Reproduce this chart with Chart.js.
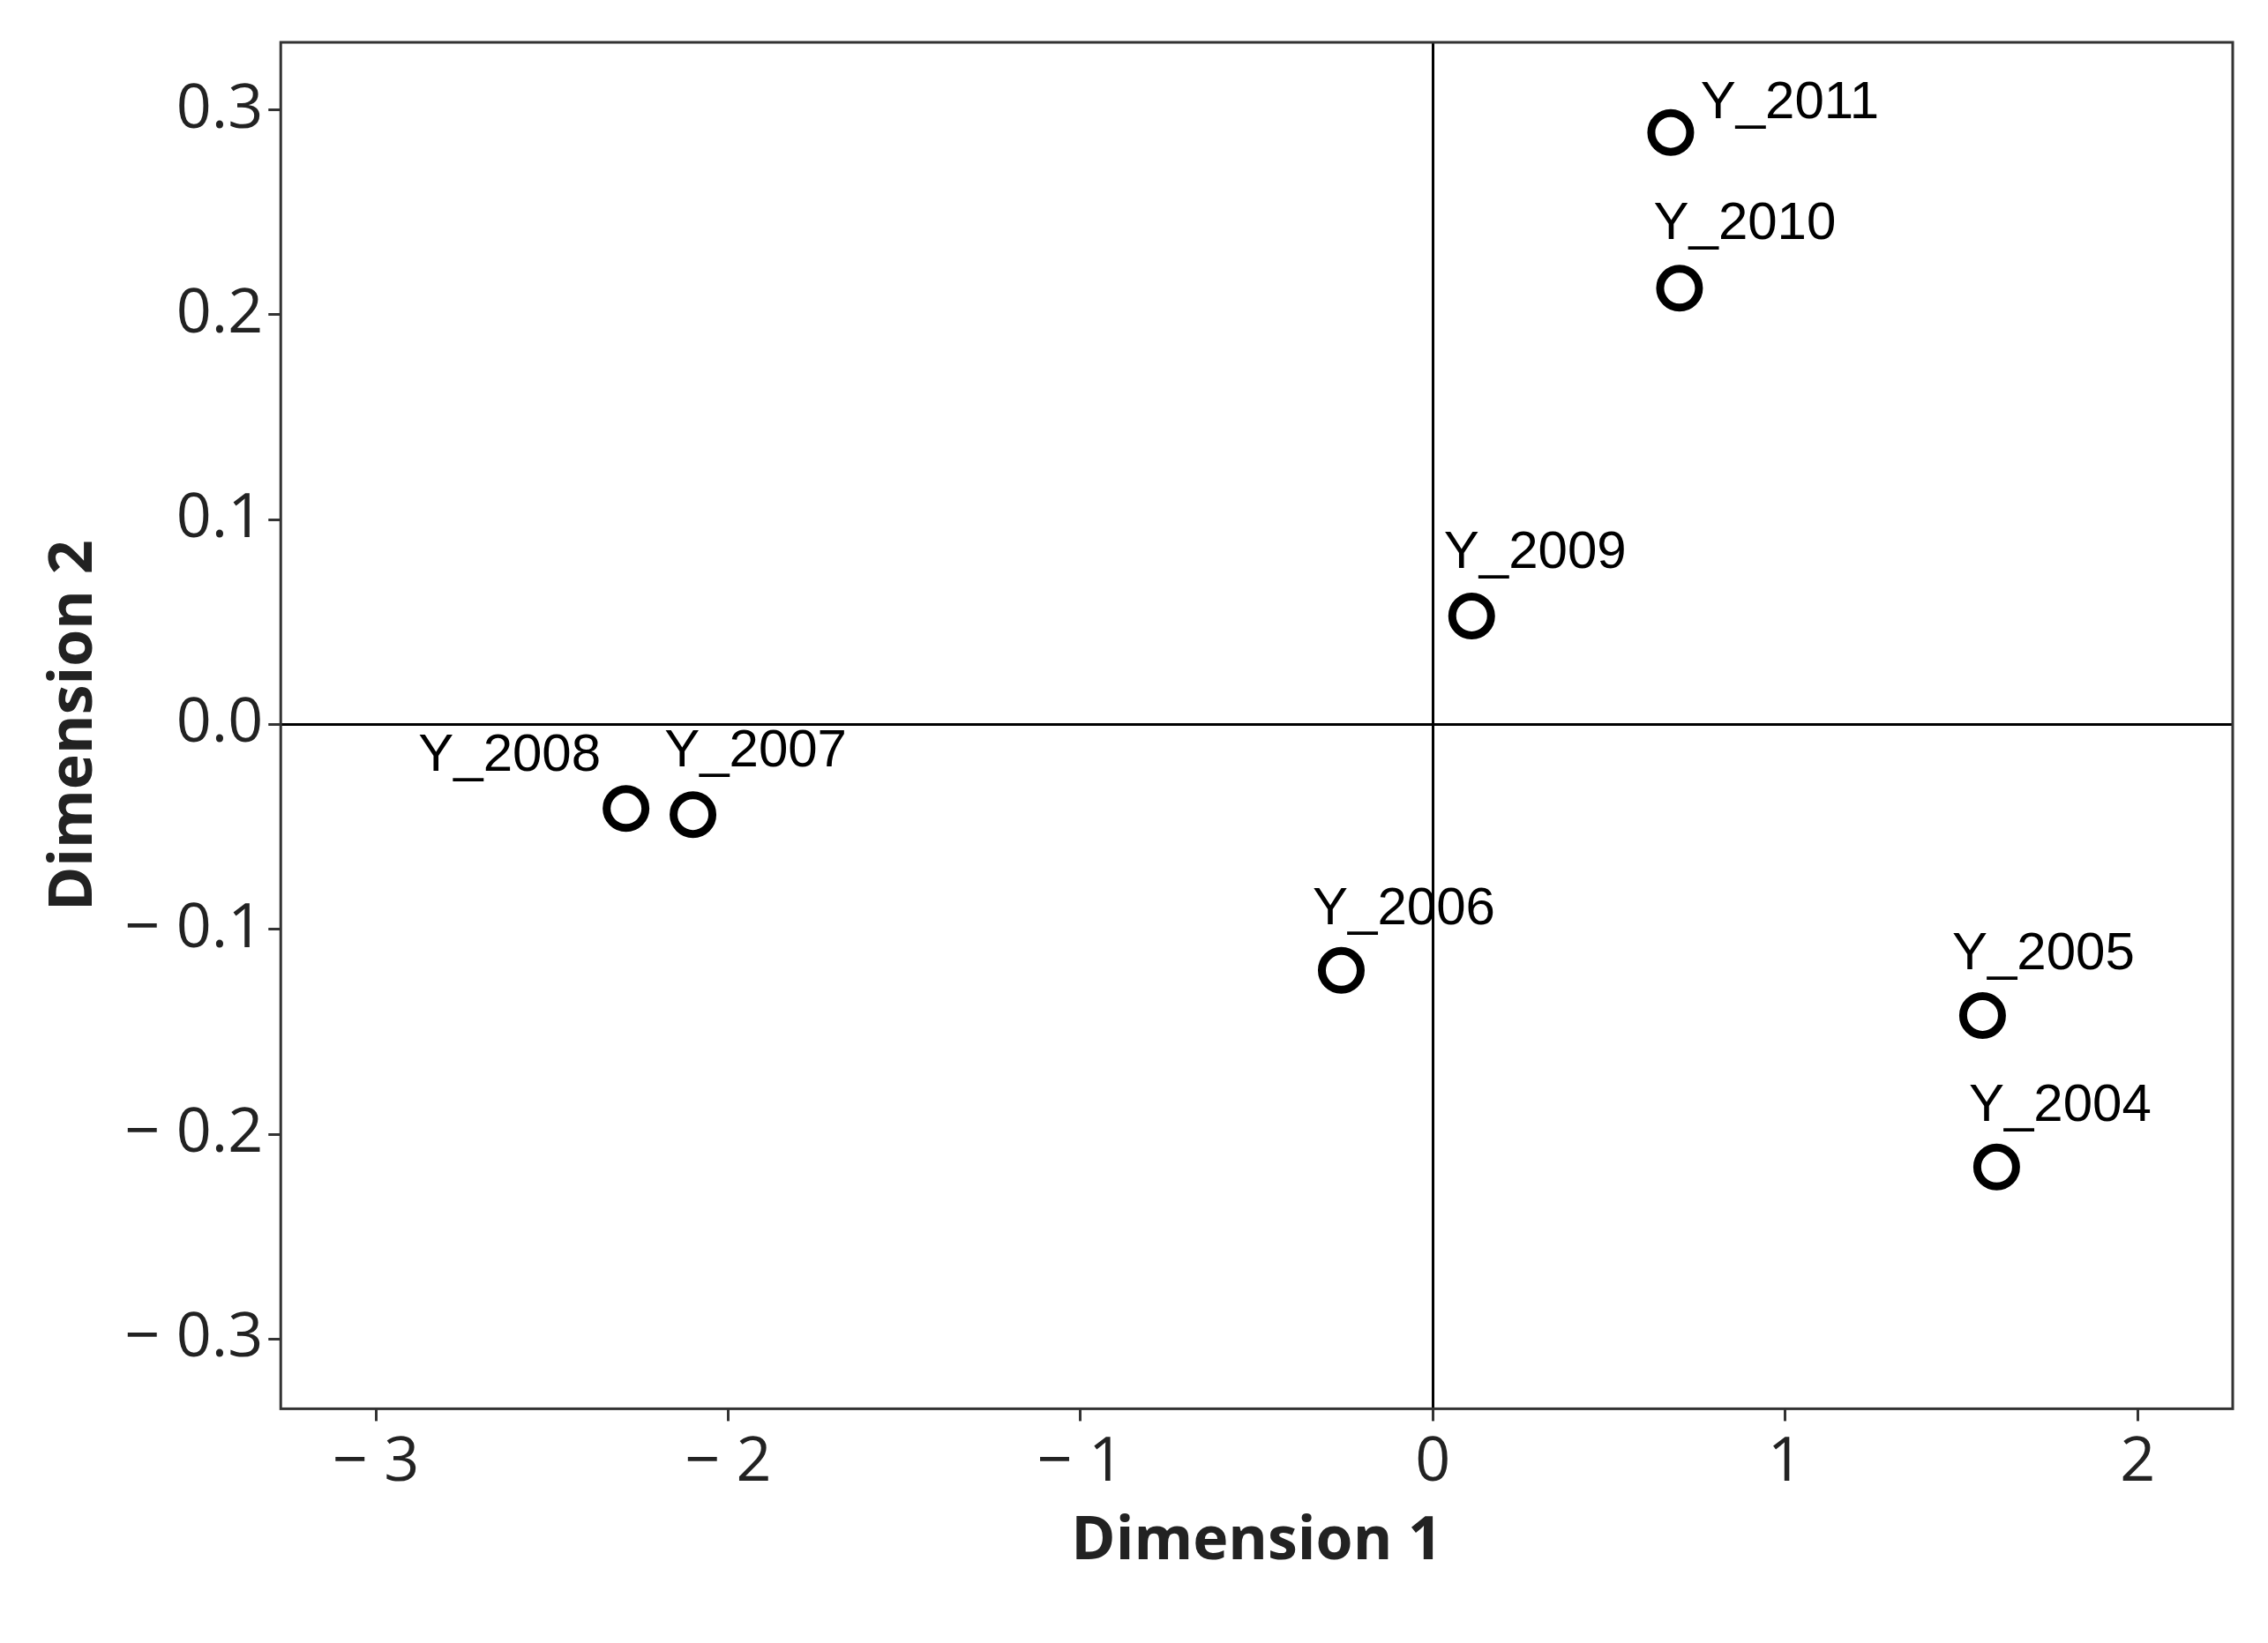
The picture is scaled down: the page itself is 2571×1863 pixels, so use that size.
<!DOCTYPE html>
<html>
<head>
<meta charset="utf-8">
<script src="https://cdn.jsdelivr.net/npm/chart.js@4/dist/chart.umd.min.js"></script>
<style>
  html, body { margin: 0; padding: 0; background: #fff; }
  #wrap { width: 2571px; height: 1863px; }
</style>
</head>
<body>
<div id="wrap"><canvas id="c"></canvas></div>
<script>
// dados
const labels = ['Y_2011', 'Y_2010', 'Y_2009', 'Y_2008', 'Y_2007', 'Y_2006', 'Y_2005', 'Y_2004'];
const dim1 = [0.675, 0.70, 0.11, -2.29, -2.10, -0.26, 1.56, 1.60];
const dim2 = [0.289, 0.213, 0.053, -0.041, -0.044, -0.120, -0.142, -0.216];
// deslocamento do rótulo em relação ao ponto (px)
const labelDx = [135, 74, 72, -132, 71, 71, 69, 72];
const labelDy = [-33, -72, -71, -59, -71, -69, -69, -69];

const fmt = (v) => {
    const s = Math.abs(v).toFixed(Math.abs(v) < 1 && v % 1 !== 0 ? 1 : 0);
    return v < 0 ? '\u2212 ' + s : s;
};

const pointLabels = {
    id: 'pointLabels',
    afterDatasetsDraw(chart) {
        const { ctx, scales: { x, y } } = chart;
        ctx.save();
        ctx.font = '60px "Liberation Sans", Arial, sans-serif';
        ctx.fillStyle = '#000';
        ctx.textAlign = 'center';
        ctx.textBaseline = 'middle';
        labels.forEach((t, i) => {
            ctx.fillText(t, x.getPixelForValue(dim1[i]) + labelDx[i], y.getPixelForValue(dim2[i]) + labelDy[i]);
        });
        ctx.restore();
    }
};

const frame = {
    id: 'frame',
    afterDraw(chart) {
        const { ctx, chartArea: a } = chart;
        ctx.save();
        ctx.strokeStyle = '#333';
        ctx.lineWidth = 3;
        ctx.strokeRect(a.left, a.top, a.right - a.left, a.bottom - a.top);
        ctx.restore();
    }
};

const zeroGrid = (ctx) => ctx.tick && ctx.tick.value === 0 ? '#000' : 'rgba(0,0,0,0)';

new Chart(document.getElementById('c'), {
    type: 'scatter',
    data: {
        datasets: [{
            data: dim1.map((v, i) => ({ x: v, y: dim2[i] })),
            pointRadius: 22,
            pointBorderWidth: 9,
            pointBorderColor: '#000',
            pointBackgroundColor: 'rgba(0,0,0,0)'
        }]
    },
    options: {
        responsive: true,
        maintainAspectRatio: false,
        animation: false,
        layout: { padding: { top: 36, right: 40, bottom: 70, left: 40 } },
        plugins: { legend: { display: false }, tooltip: { enabled: false } },
        scales: {
            x: {
                min: -3.27, max: 2.27,
                afterBuildTicks: (s) => { s.ticks = [-3, -2, -1, 0, 1, 2].map(v => ({ value: v })); },
                ticks: { color: '#222', font: { family: '"Open Sans"', size: 70 }, callback: fmt, maxRotation: 0, padding: 6 },
                grid: { color: zeroGrid, lineWidth: 3, tickColor: '#333', tickLength: 14 },
                border: { display: false },
                title: { display: true, text: 'Dimension 1', color: '#222', font: { family: '"Open Sans"', size: 68, weight: 'bold' }, padding: { top: 0 } }
            },
            y: {
                min: -0.334, max: 0.333,
                afterBuildTicks: (s) => { s.ticks = [-0.3, -0.2, -0.1, 0, 0.1, 0.2, 0.3].map(v => ({ value: v })); },
                ticks: { color: '#222', font: { family: '"Open Sans"', size: 70 }, callback: (v) => v === 0 ? '0.0' : fmt(v), padding: 6 },
                grid: { color: zeroGrid, lineWidth: 3, tickColor: '#333', tickLength: 14 },
                border: { display: false },
                title: { display: true, text: 'Dimension 2', color: '#222', font: { family: '"Open Sans"', size: 68, weight: 'bold' }, padding: { bottom: 10 } }
            }
        }
    },
    plugins: [pointLabels, frame]
});
</script>
</body>
</html>
